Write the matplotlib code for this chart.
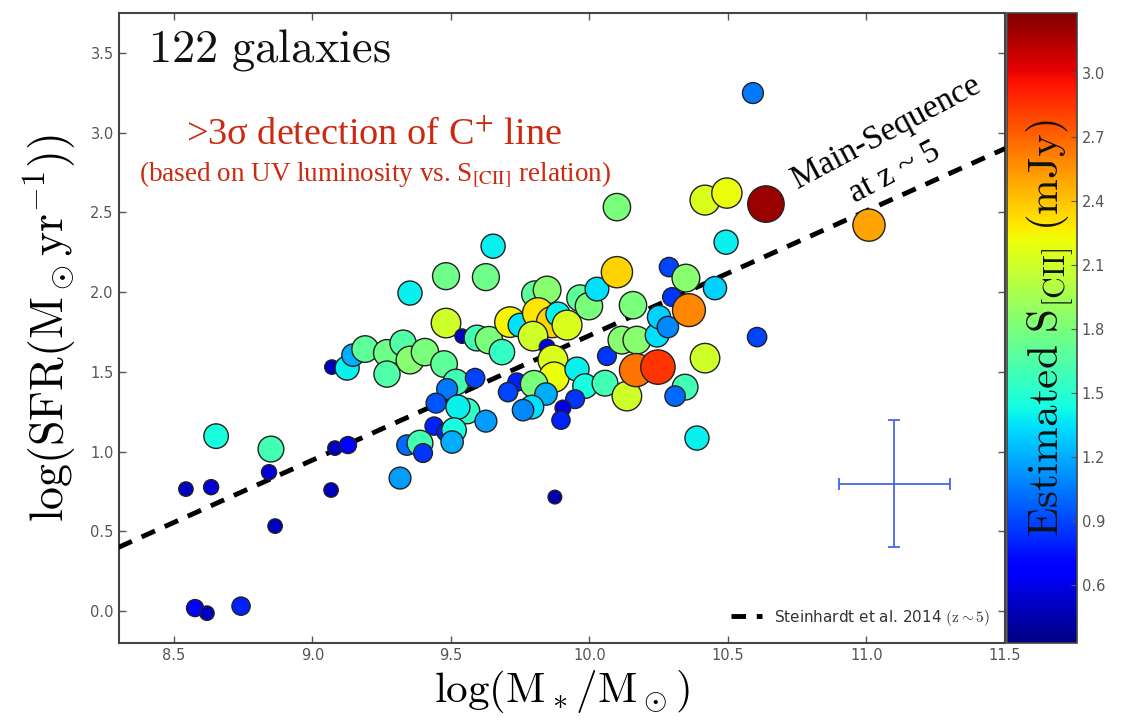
import numpy as np
import matplotlib
matplotlib.use("Agg")
import matplotlib.pyplot as plt

plt.rcParams['mathtext.fontset'] = 'cm'

# ---- data ----
log_mstar = [8.543, 8.634, 8.576, 8.619, 8.742, 8.652, 8.850, 8.843, 8.865, 9.067,
             9.081, 9.128, 9.070, 9.125, 9.146, 9.190, 9.269, 9.327, 9.352, 9.406,
             9.269, 9.475, 9.518, 9.352, 9.482, 9.626, 9.652, 9.482, 9.540, 9.594,
             9.637, 9.684, 9.587, 9.486, 9.446, 9.558, 9.525, 9.626, 9.439, 9.482,
             9.511, 9.504, 9.341, 9.388, 9.399, 9.316, 9.875, 9.803, 9.847, 9.713,
             9.749, 9.814, 9.865, 9.886, 9.919, 9.796, 9.847, 9.868, 9.872, 9.955,
             9.984, 9.738, 9.706, 9.800, 9.843, 9.792, 9.760, 9.948, 9.904, 9.897,
             9.966, 9.998, 10.027, 10.099, 10.099, 10.056, 10.135, 10.063, 10.117, 10.171,
             10.157, 10.168, 10.247, 10.244, 10.251, 10.283, 10.287, 10.348, 10.298, 10.359,
             10.453, 10.493, 10.417, 10.345, 10.309, 10.388, 10.605, 10.590, 10.417, 10.496,
             10.637, 11.009]
log_sfr = [0.765, 0.777, 0.019, -0.013, 0.031, 1.097, 1.016, 0.871, 0.533, 0.759,
           1.022, 1.041, 1.530, 1.524, 1.605, 1.643, 1.618, 1.680, 1.574, 1.624,
           1.486, 1.549, 1.436, 1.994, 2.100, 2.094, 2.288, 1.806, 1.724, 1.712,
           1.699, 1.624, 1.461, 1.392, 1.304, 1.254, 1.279, 1.191, 1.160, 1.122,
           1.135, 1.060, 1.041, 1.053, 0.991, 0.834, 0.715, 1.987, 2.013, 1.812,
           1.793, 1.868, 1.812, 1.862, 1.793, 1.724, 1.655, 1.574, 1.467, 1.517,
           1.411, 1.436, 1.373, 1.423, 1.361, 1.279, 1.260, 1.329, 1.273, 1.197,
           1.962, 1.912, 2.019, 2.125, 2.533, 1.429, 1.348, 1.599, 1.699, 1.699,
           1.918, 1.511, 1.530, 1.730, 1.843, 1.781, 2.157, 2.088, 1.969, 1.887,
           2.025, 2.313, 1.586, 1.404, 1.348, 1.085, 1.718, 3.248, 2.577, 2.621,
           2.552, 2.420]
s_cii = [0.50, 0.55, 0.70, 0.50, 0.80, 1.45, 1.60, 0.55, 0.50, 0.50,
         0.50, 0.70, 0.50, 1.40, 1.20, 1.70, 1.75, 1.65, 1.85, 1.80,
         1.65, 1.70, 1.60, 1.40, 1.75, 1.75, 1.40, 2.10, 0.50, 1.60,
         1.80, 1.55, 0.90, 1.05, 0.95, 1.55, 1.40, 1.15, 0.80, 0.80,
         1.45, 1.20, 1.00, 1.60, 0.85, 1.15, 0.45, 1.70, 1.85, 2.25,
         1.35, 2.30, 2.35, 1.40, 2.15, 2.10, 0.60, 2.15, 2.20, 1.40,
         1.45, 0.80, 0.90, 1.80, 1.20, 1.35, 1.10, 0.85, 0.60, 0.80,
         1.70, 1.80, 1.35, 2.35, 1.80, 1.60, 2.10, 0.85, 1.85, 1.85,
         1.80, 2.65, 2.85, 1.35, 1.30, 1.10, 0.90, 1.85, 0.85, 2.60,
         1.30, 1.40, 2.10, 1.60, 1.00, 1.40, 0.90, 1.05, 2.15, 2.20,
         3.20, 2.50]

ms_x = [8.3, 11.5]
ms_y = [0.40, 2.90]

err_x, err_y = 11.1, 0.8
err_dx, err_dy = 0.2, 0.4

xticks = [8.5, 9.0, 9.5, 10.0, 10.5, 11.0, 11.5]
yticks = [0.0, 0.5, 1.0, 1.5, 2.0, 2.5, 3.0, 3.5]
cbar_ticks = [0.6, 0.9, 1.2, 1.5, 1.8, 2.1, 2.4, 2.7, 3.0]
vmin, vmax = 0.33, 3.28

# ---- figure ----
W, H = 1132, 725
fig = plt.figure(figsize=(W / 100, H / 100), dpi=100)
ax = fig.add_axes([118.6 / W, 1 - 643 / H, (1005 - 118.6) / W, (643 - 13) / H])
cax = fig.add_axes([1007 / W, 1 - 643 / H, (1077 - 1007) / W, (643 - 13) / H])

ax.plot(ms_x, ms_y, ls=(0, (3, 2.2)), color='black', lw=3.5, zorder=3,
        label=r'Steinhardt et al. 2014 $(\mathrm{z\sim5})$')

sc = ax.scatter(log_mstar, log_sfr, c=s_cii, s=np.array(s_cii) * 215, cmap='jet',
                vmin=vmin, vmax=vmax, edgecolors='#222222', linewidths=1.0, zorder=4)

ax.errorbar([err_x], [err_y], xerr=[err_dx], yerr=[err_dy], fmt='none',
            ecolor='#4466ee', elinewidth=1.3, capsize=4, capthick=1.3, zorder=2)

ax.set_xlim(8.3, 11.5)
ax.set_ylim(-0.2, 3.75)
ax.set_xticks(xticks)
ax.set_yticks(yticks)
ax.set_xticklabels([f'{t:.1f}' for t in xticks])
ax.set_yticklabels([f'{t:.1f}' for t in yticks])
ax.tick_params(direction='in', top=True, right=True, length=5, width=1,
               labelsize=10.5, labelcolor='#555555', color='#555555')
for sp in ax.spines.values():
    sp.set_color('#444444')
    sp.set_linewidth(1.5)

ax.set_xlabel(r'$\log(\mathrm{M_*/M_\odot})$', fontsize=31, labelpad=4)
ax.set_ylabel(r'$\log(\mathrm{SFR(M_\odot yr^{-1})})$', fontsize=33, labelpad=8)

ax.text(0.033, 0.941, r'$\mathrm{122\ galaxies}$', transform=ax.transAxes,
        fontsize=33.5, ha='left', va='center', color='#111111')
ax.text(0.288, 0.806, r'>3σ detection of C$^{+}$ line', transform=ax.transAxes,
        fontsize=27.5, ha='center', va='center', color='#cc2a10',
        family='Liberation Serif', math_fontfamily='stix')
ax.text(0.2895, 0.743, r'(based on UV luminosity vs. S$_{\mathrm{[CII]}}$ relation)',
        transform=ax.transAxes, fontsize=19.5, ha='center', va='center',
        color='#cc2a10', family='Liberation Serif', math_fontfamily='stix')
ax.text(11.07, 3.00, 'Main-Sequence', fontsize=24, rotation=28, ha='center',
        va='center', family='Liberation Serif', color='black', rotation_mode='anchor')
ax.text(11.10, 2.75, r'at z ~ 5', fontsize=24, rotation=28, ha='center',
        va='center', family='Liberation Serif', color='black', rotation_mode='anchor')

leg = ax.legend(loc='lower right', frameon=False, fontsize=11, handlelength=2.0,
                borderaxespad=0.6)
for t in leg.get_texts():
    t.set_color('#333333')

cb = fig.colorbar(sc, cax=cax, ticks=cbar_ticks)
cb.ax.set_yticklabels([f'{t:.1f}' for t in cbar_ticks])
cb.ax.tick_params(labelsize=10.5, labelcolor='#555555', color='#555555',
                  direction='in', length=4)
cb.outline.set_edgecolor('#444444')
cb.outline.set_linewidth(1.2)
cax.text(0.62, 0.5, r'$\mathrm{Estimated\ S_{[CII]}\ (mJy)}$', transform=cax.transAxes,
         rotation=90, fontsize=31, ha='center', va='center', color='#111111')

fig.savefig('out.png', dpi=100)
